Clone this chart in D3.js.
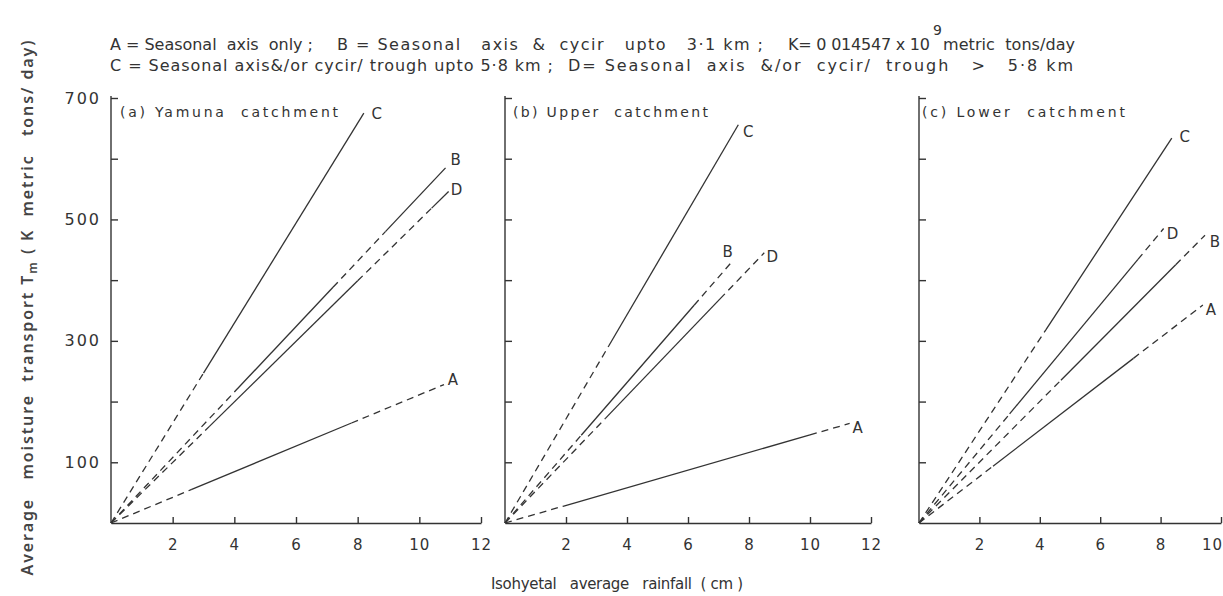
<!DOCTYPE html>
<html>
<head>
<meta charset="utf-8">
<script src="https://cdn.jsdelivr.net/npm/d3@7"></script>
<style>
body { margin: 0; background: #fff; }
svg { display: block; font-family: "DejaVu Sans", sans-serif; }
svg text { white-space: pre; }
</style>
</head>
<body>
<svg width="1223" height="596"></svg>
<script>
// series order: A, B, C, D
var seriesNames = ["A", "B", "C", "D"];
var yTicks = [100, 200, 300, 400, 500, 600, 700];
var yLabels = [100, 300, 500, 700];
var xTicks12 = [2, 4, 6, 8, 10, 12];
var xTicks10 = [2, 4, 6, 8, 10];

// end of each line [rainfall cm, transport K metric tons/day], lines start at origin
var yamunaEnd = [[10.8, 228], [10.85, 585], [8.2, 675], [10.95, 546]];
var upperEnd = [[11.3, 164], [7.4, 428], [7.65, 656], [8.5, 445]];
var lowerEnd = [[9.4, 359], [9.47, 474], [8.37, 634], [8.1, 485]];

// rainfall values where a line switches dashed -> solid -> dashed ... (starts dashed)
var yamunaBreaks = [[2.6, 7.8], [4, 7.2, 8.9], [3.0], [3.2, 8, 10.4]];
var upperBreaks = [[1.9, 10], [2.5, 6.2], [3.4], [3.3, 7.05]];
var lowerBreaks = [[2.45, 7.1], [4.7, 8.5], [4.2], [3.0, 7.25]];

var svg = d3.select("svg");
var ink = "#333";

var y = d3.scaleLinear().domain([0, 700]).range([523, 98]);

var panels = [
  {title: "(a) Yamuna  catchment", tx: 120, tw: 218, x0: 111, x1: 481, xmax: 12, ticks: xTicks12,
   ends: yamunaEnd, breaks: yamunaBreaks, labels: true,
   off: [[9, -5], [10, -8], [13, 1], [8, -2]]},
  {title: "(b) Upper  catchment", tx: 513, tw: 195, x0: 505, x1: 871, xmax: 12, ticks: xTicks12,
   ends: upperEnd, breaks: upperBreaks, labels: false,
   off: [[8, 4], [-3, -11], [10, 7], [8, 4]]},
  {title: "(c) Lower  catchment", tx: 922, tw: 203, x0: 919, x1: 1221, xmax: 10, ticks: xTicks10,
   ends: lowerEnd, breaks: lowerBreaks, labels: false,
   off: [[8, 5], [10, 7], [13, -1], [9, 5]]}
];

panels.forEach(function(p) {
  var x = d3.scaleLinear().domain([0, p.xmax]).range([p.x0, p.x1]);
  var g = svg.append("g");

  var yAxis = d3.axisLeft(y)
    .tickValues(yTicks)
    .tickSize(-7)
    .tickSizeOuter(0)
    .tickPadding(10)
    .tickFormat(function(d) { return p.labels && yLabels.indexOf(d) >= 0 ? d : ""; });
  var ya = g.append("g").attr("transform", "translate(" + p.x0 + ",0)").call(yAxis);
  ya.select(".domain").attr("d", "M0," + y(0) + "V" + (y(700) - 2));

  var xAxis = d3.axisBottom(x)
    .tickValues(p.ticks)
    .tickSize(-6)
    .tickSizeOuter(0)
    .tickPadding(16);
  var xa = g.append("g").attr("transform", "translate(0," + y(0) + ")").call(xAxis);

  [ya, xa].forEach(function(a) {
    a.selectAll("path, line").attr("stroke", ink).attr("stroke-width", 1.4);
    a.selectAll("text").attr("fill", ink).attr("font-family", "DejaVu Sans, sans-serif");
  });
  ya.selectAll("text").attr("font-size", 16).attr("letter-spacing", "2px");
  xa.selectAll("text").attr("font-size", 15).attr("letter-spacing", "1px");
  // last label of the short axis sits inside the page edge
  if (p.xmax === 10) {
    xa.selectAll(".tick text").filter(function(d) { return d === 10; }).attr("dx", -9);
  }

  g.append("text")
    .attr("x", p.tx).attr("y", 117)
    .attr("font-size", 14).attr("fill", ink)
    .attr("textLength", p.tw).attr("lengthAdjust", "spacing")
    .text(p.title);

  p.ends.forEach(function(e, i) {
    var slope = e[1] / e[0];
    var pts = [0].concat(p.breaks[i]).concat([e[0]]);
    for (var k = 0; k < pts.length - 1; k++) {
      g.append("line")
        .attr("x1", x(pts[k])).attr("y1", y(pts[k] * slope))
        .attr("x2", x(pts[k + 1])).attr("y2", y(pts[k + 1] * slope))
        .attr("stroke", ink).attr("stroke-width", 1.3)
        .attr("stroke-dasharray", k % 2 === 0 ? "7,5" : null);
    }
    g.append("text")
      .attr("x", x(e[0]) + p.off[i][0]).attr("y", y(e[1]) + p.off[i][1])
      .attr("dy", "0.35em").attr("text-anchor", "middle")
      .attr("font-size", 15).attr("fill", ink)
      .text(seriesNames[i]);
  });
});

// header key
var header = [
  ["A = Seasonal  axis  only ;", 110, 50, 203],
  ["B = Seasonal   axis  &  cycir   upto   3·1 km ;", 337, 50, 426],
  ["K= 0 014547 x 10", 788, 50, 142],
  ["metric  tons/day", 943, 50, 132],
  ["C = Seasonal axis&/or cycir/ trough upto 5·8 km ;", 110, 71, 443],
  ["D= Seasonal  axis  &/or  cycir/  trough   >   5·8 km", 568, 71, 505]
];
header.forEach(function(h) {
  svg.append("text")
    .attr("x", h[1]).attr("y", h[2])
    .attr("font-size", 16).attr("fill", ink)
    .attr("textLength", h[3]).attr("lengthAdjust", "spacing")
    .text(h[0]);
});
svg.append("text").attr("x", 933).attr("y", 35)
  .attr("font-size", 14).attr("fill", ink).text("9");

// axis titles
svg.append("text")
  .attr("x", 617).attr("y", 589)
  .attr("text-anchor", "middle")
  .attr("font-size", 15).attr("fill", ink)
  .attr("textLength", 252).attr("lengthAdjust", "spacing")
  .text("Isohyetal   average   rainfall  ( cm )");

var yt = svg.append("text")
  .attr("transform", "translate(33,308) rotate(-90)")
  .attr("text-anchor", "middle")
  .attr("font-family", "Noto Sans, sans-serif")
  .attr("font-size", 16).attr("font-weight", 600).attr("fill", "#444")
  .attr("textLength", 535).attr("lengthAdjust", "spacing");
yt.append("tspan").text("Average   moisture  transport T");
yt.append("tspan").attr("font-size", 12).attr("dy", 4).text("m");
yt.append("tspan").attr("dy", -4).text(" ( K  metric   tons/ day)");
</script>
</body>
</html>
